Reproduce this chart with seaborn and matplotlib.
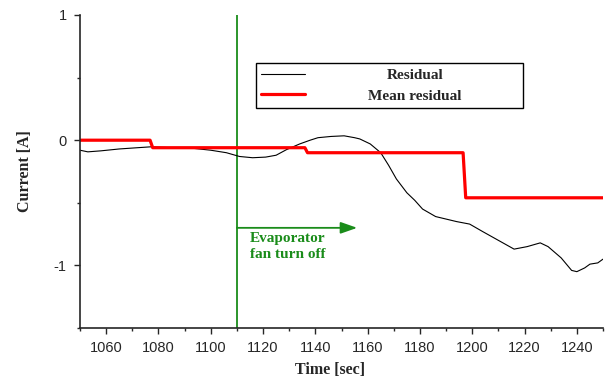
import numpy as np
import pandas as pd
import matplotlib
matplotlib.use("Agg")
import matplotlib.pyplot as plt
from matplotlib.ticker import MultipleLocator
from matplotlib.lines import Line2D
import seaborn as sns

# ---- data ----
res_time = [1050, 1053, 1058, 1065, 1072, 1077, 1085, 1092, 1100, 1106, 1111, 1116,
            1121, 1125, 1129, 1134, 1138, 1141, 1146, 1151, 1155, 1157, 1161, 1165,
            1168, 1171, 1175, 1178, 1181, 1186, 1190, 1194, 1199, 1204, 1210, 1216,
            1221, 1226, 1229, 1234, 1238, 1240, 1243, 1245, 1248, 1250]
res_value = [-0.08, -0.093, -0.085, -0.07, -0.06, -0.053, -0.06, -0.062, -0.08, -0.10, -0.13, -0.14,
             -0.135, -0.12, -0.075, -0.03, 0.0, 0.02, 0.03, 0.035, 0.02, 0.01, -0.03, -0.10,
             -0.20, -0.31, -0.42, -0.48, -0.55, -0.61, -0.63, -0.65, -0.67, -0.73, -0.80, -0.87,
             -0.85, -0.82, -0.85, -0.94, -1.04, -1.05, -1.02, -0.99, -0.98, -0.95]

mean_time = [1050, 1076.8, 1077.8, 1136.0, 1137.0, 1196.5, 1197.5, 1250]
mean_value = [0.0, 0.0, -0.06, -0.06, -0.10, -0.10, -0.46, -0.46]

event_time = 1110
arrow_end = 1156
arrow_level = -0.70
event_label = "Evaporator\nfan turn off"

x_label = "Time [sec]"
y_label = "Current [A]"
series_labels = ["Residual", "Mean residual"]
x_ticks = [1060, 1080, 1100, 1120, 1140, 1160, 1180, 1200, 1220, 1240]
y_ticks = [-1, 0, 1]

# ---- styling ----
sns.set_style("ticks")
plt.rcParams["font.family"] = ["Liberation Sans", "DejaVu Sans"]
plt.rcParams["axes.unicode_minus"] = False

GREEN = "#1a8c1a"
SERIF = ["Liberation Serif", "DejaVu Serif"]

fig = plt.figure(figsize=(6.14, 3.79), dpi=100)
ax = fig.add_axes([80 / 614, 1 - 328 / 379, 523 / 614, 313 / 379])

df_res = pd.DataFrame({"t": res_time, "v": res_value})
df_mean = pd.DataFrame({"t": mean_time, "v": mean_value})

sns.lineplot(data=df_res, x="t", y="v", ax=ax, color="black", lw=0.8,
             estimator=None, sort=False)
sns.lineplot(data=df_mean, x="t", y="v", ax=ax, color="#ff0000", lw=2.3,
             estimator=None, sort=False)

ax.axvline(event_time, color=GREEN, lw=1.3, zorder=1)
ax.annotate("", xy=(arrow_end, arrow_level), xytext=(event_time, arrow_level),
            arrowprops=dict(arrowstyle="-|>,head_length=1.0,head_width=0.35",
                            color=GREEN, lw=1.3, shrinkA=0, shrinkB=0))
ax.text(event_time + 5.0, arrow_level - 0.035, event_label, color=GREEN,
        family=SERIF, fontweight="bold", fontsize=11,
        va="top", ha="left", linespacing=1.3)

ax.set_xlim(1050, 1250)
ax.set_ylim(-1.5, 1.0)
ax.set_xticks(x_ticks)
ax.set_yticks(y_ticks)
ax.xaxis.set_minor_locator(MultipleLocator(10))
ax.yaxis.set_minor_locator(MultipleLocator(0.5))
ax.tick_params(which="major", direction="out", length=4.5, width=1, labelsize=10.5, pad=5)
ax.tick_params(which="minor", direction="out", length=2.5, width=1)
ax.set_xlabel(x_label, family=SERIF, fontweight="bold", fontsize=11.5)
ax.set_ylabel(y_label, family=SERIF, fontweight="bold", fontsize=11.5)
ax.xaxis.set_label_coords((330 - 80) / 523, -(362 - 328) / 313)
ax.yaxis.set_label_coords(-(80 - 33) / 523, 0.5)

sns.despine(ax=ax)
for s in ["left", "bottom"]:
    ax.spines[s].set_linewidth(1.2)

handles = [Line2D([], [], color="black", lw=0.8),
           Line2D([], [], color="#ff0000", lw=2.3)]
leg = ax.legend(handles, series_labels, loc="lower left",
                bbox_to_anchor=(0.336, 0.703, 0.511, 0.14), mode="expand",
                frameon=True, fancybox=False, edgecolor="black", framealpha=1,
                prop={"family": SERIF, "weight": "bold", "size": 11},
                handlelength=2.9, handletextpad=1.5, borderpad=0.35, labelspacing=0.45,
                borderaxespad=0)
leg.get_frame().set_linewidth(1.0)

# centre each legend label at the same horizontal position (as in the reference)
fig.canvas.draw()
renderer = fig.canvas.get_renderer()
target_cx = ax.transAxes.transform(((415 - 80) / 523, 0))[0]
for t in leg.get_texts():
    bb = t.get_window_extent(renderer)
    t.set_x((target_cx - (bb.x0 + bb.x1) / 2))

fig.savefig("out.png", dpi=100)
